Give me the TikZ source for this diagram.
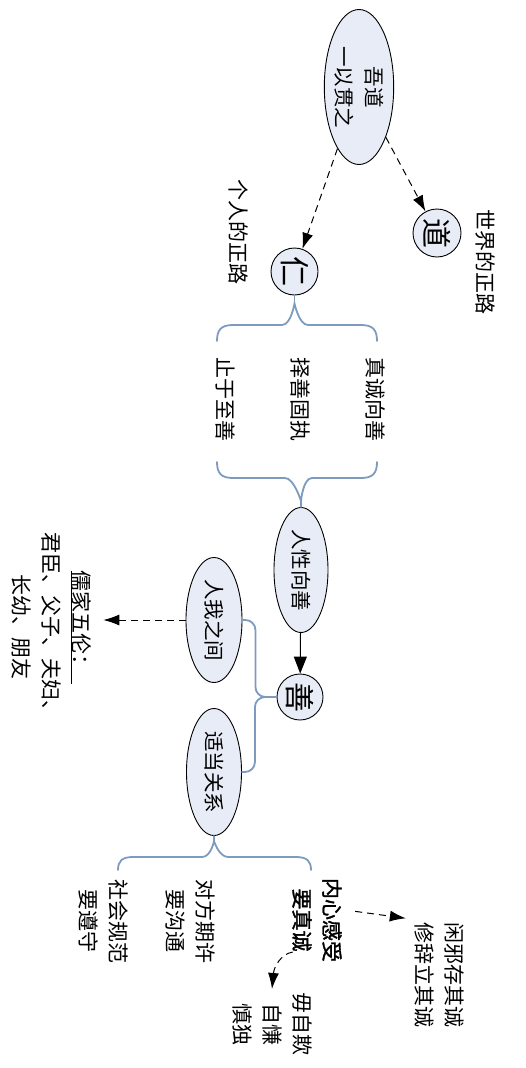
\documentclass[tikz,border=0pt]{standalone}
\usepackage{fontspec}
\setmainfont{Noto Sans CJK SC}
\newfontfamily\cjkbold[FakeBold=1.5]{Noto Sans CJK SC}
\usetikzlibrary{shapes.geometric,arrows.meta}
\definecolor{efill}{RGB}{232,236,246}
\definecolor{bracecol}{RGB}{125,155,190}
\tikzset{
  vtext/.style={rotate=-90, align=center, font=\fontsize{21}{30}\selectfont},
  oval/.style={ellipse, draw=black, line width=0.9pt, fill=efill, rotate=-90, align=center,
    font=\fontsize{20.5}{30}\selectfont, inner sep=0pt},
  bigcirc/.style={circle, draw=black, line width=0.9pt, fill=efill, minimum size=#1, inner sep=0pt,
    font=\fontsize{30}{30}\selectfont, rotate=-90},
  dashline/.style={draw=black, line width=1pt, dash pattern=on 7pt off 5pt, -{Latex[length=16pt,width=11pt]}},
  solidline/.style={draw=black, line width=1pt, -{Triangle[length=17pt,width=13pt]}},
  bracestyle/.style={draw=bracecol, line width=1.8pt, line cap=round},
}
\begin{document}
\begin{tikzpicture}[x=1pt,y=-1pt]
\useasboundingbox (0,0) rectangle (526,1068);
% nodes (rotated -90: north = image right, south = image left, west = image top, east = image bottom)
\node[oval, minimum width=155pt, minimum height=68pt] (e1) at (359,87) {吾道\\一以贯之};
\node[bigcirc=48pt] (dao) at (437,233) {道};
\node[vtext] (sj) at (485,262) {世界的正路};
\node[bigcirc=47pt] (ren) at (294.5,271.5) {仁};
\node[vtext] (gr) at (239,232) {个人的正路};
\node[vtext] (t1) at (375,399) {真诚向善};
\node[vtext] (t2) at (300,399) {择善固执};
\node[vtext] (t3) at (225,399) {止于至善};
\node[oval, minimum width=125pt, minimum height=54pt] (rx) at (301,570) {人性向善};
\node[bigcirc=46pt] (shan) at (300,697) {善};
\node[oval, minimum width=125pt, minimum height=56pt] (rw) at (214,620) {人我之间};
\node[oval, minimum width=127pt, minimum height=55pt] (rs) at (214,772) {适当关系};
\node[vtext] (wl) at (52,627) {\underline{儒家五伦：\hspace{8pt}}\\君臣、父子、夫妇、\\长幼、朋友};
\node[vtext] (nx) at (317,920) {{\cjkbold 内心感受}\\{\cjkbold 要真诚}};
\node[vtext] (df) at (191,921) {对方期许\\要沟通};
\node[vtext] (sh) at (104,921) {社会规范\\要遵守};
\node[vtext] (xs) at (439,975) {闲邪存其诚\\修辞立其诚};
\node[vtext] (wz) at (272,1024) {毋自欺\\自慊\\慎独};
% connectors
\draw[dashline] (e1) -- (dao);
\draw[dashline] (e1) -- (ren);
\draw[solidline] (rx) -- (shan);
\draw[dashline, shorten >=8pt] (rw.south) -- (rw.south -| wl.north);
\draw[dashline, shorten <=10pt, shorten >=5pt] ([yshift=10pt]nx.north) -- (xs.south west);
\draw[dashline] ([xshift=4pt,yshift=-32pt]nx.south) .. controls +(-12,2) and +(2,-22) .. (wz.west);
% tree from shan
\draw[bracestyle, rounded corners=10pt] (rw.north) -- ++(13,0) |- (shan.south);
\draw[bracestyle, rounded corners=10pt] (rs.north) -- ++(13,0) |- (shan.south);
% brace under ren
\draw[bracestyle] (ren.east) -- ++(0,8) coordinate (b1t);
\draw[bracestyle] (217,341) .. controls (217,330) and (221,325) .. (233,325) -- (282,325)
   .. controls (291,325) and (b1t) .. (b1t)
   .. controls (b1t) and (299,325) .. (308,325) -- (361,325)
   .. controls (373,325) and (377,330) .. (377,341);
% brace above rx
\draw[bracestyle] (rx.west) -- ++(0,-6) coordinate (b2t);
\draw[bracestyle] (217,462) .. controls (217,473) and (221,478) .. (233,478) -- (285,478)
   .. controls (294,478) and (b2t) .. (b2t)
   .. controls (b2t) and (303,478) .. (312,478) -- (361,478)
   .. controls (373,478) and (377,473) .. (377,462);
% brace under rs
\draw[bracestyle] (rs.east) -- ++(0,5) coordinate (b3t);
\draw[bracestyle] (118,870) .. controls (118,861) and (122,857) .. (133,857) -- (202,857)
   .. controls (211,857) and (b3t) .. (b3t)
   .. controls (b3t) and (219,857) .. (228,857) -- (296,857)
   .. controls (307,857) and (311,861) .. (311,870);
\end{tikzpicture}
\end{document}
